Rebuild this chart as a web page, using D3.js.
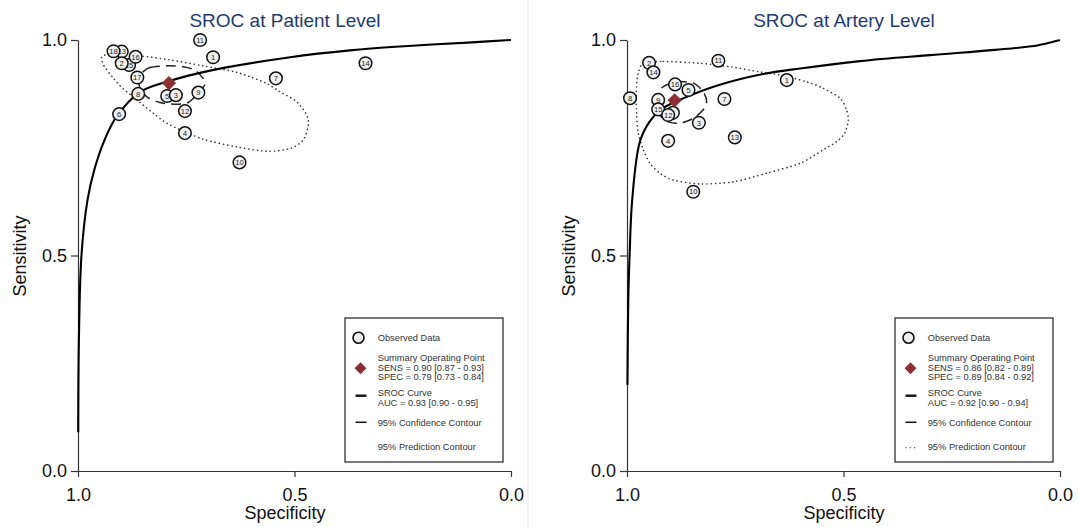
<!DOCTYPE html>
<html><head><meta charset="utf-8">
<script src="https://cdn.jsdelivr.net/npm/d3@7"></script>
<style>body{margin:0;background:#fff}svg{display:block}text{font-family:Arial,"Liberation Sans",sans-serif}</style>
</head><body><svg id="c" width="1079" height="527"></svg>
<script>
// ---------- data ----------
const tickValues = [0, 0.5, 1];
const xAxisTitle = "Specificity";
const yAxisTitle = "Sensitivity";

const patientTitle = "SROC at Patient Level";
// [label, specificity, sensitivity] (array order = drawing order)
const patientStudies = [
  ["13", 0.899, 0.973], ["18", 0.918, 0.974], ["15", 0.882, 0.942], ["2", 0.899, 0.946],
  ["16", 0.867, 0.961], ["11", 0.718, 1.000], ["1", 0.688, 0.960], ["7", 0.543, 0.911],
  ["14", 0.336, 0.946], ["17", 0.863, 0.913], ["8", 0.861, 0.875], ["5", 0.794, 0.870],
  ["3", 0.774, 0.872], ["9", 0.722, 0.878], ["12", 0.753, 0.835], ["6", 0.905, 0.828],
  ["4", 0.753, 0.784], ["10", 0.627, 0.716]
];
const patientSummary = [0.79, 0.90];
const patientCurve = [
  [0.9995, 0.09], [0.998, 0.30], [0.992, 0.50], [0.978, 0.629], [0.962, 0.700], [0.94, 0.765],
  [0.911, 0.822], [0.857, 0.879], [0.795, 0.903], [0.695, 0.929], [0.51, 0.960], [0.372, 0.976],
  [0.256, 0.985], [0.10, 0.994], [0.0, 1.0]
];
const patientConfidence = [
  [0.853, 0.923], [0.834, 0.936], [0.795, 0.940], [0.757, 0.938], [0.730, 0.930], [0.711, 0.911],
  [0.707, 0.896], [0.723, 0.877], [0.745, 0.855], [0.776, 0.851], [0.811, 0.855], [0.841, 0.868],
  [0.857, 0.889], [0.859, 0.907]
];
const patientPrediction = [
  [0.945, 0.961], [0.940, 0.940], [0.918, 0.911], [0.898, 0.889], [0.864, 0.861], [0.826, 0.830],
  [0.788, 0.803], [0.711, 0.770], [0.633, 0.752], [0.564, 0.742], [0.510, 0.748], [0.480, 0.768],
  [0.468, 0.803], [0.472, 0.826], [0.495, 0.857], [0.534, 0.880], [0.564, 0.899], [0.603, 0.915],
  [0.641, 0.927], [0.711, 0.940], [0.788, 0.954], [0.864, 0.964], [0.921, 0.968]
];
const patientLegend = [
  "Observed Data", "Summary Operating Point", "SENS = 0.90 [0.87 - 0.93]", "SPEC = 0.79 [0.73 - 0.84]",
  "SROC Curve", "AUC = 0.93 [0.90 - 0.95]", "95% Confidence Contour", "95% Prediction Contour"
];

const arteryTitle = "SROC at Artery Level";
const arteryStudies = [
  ["2", 0.949, 0.947], ["14", 0.939, 0.925], ["11", 0.789, 0.952], ["1", 0.631, 0.907],
  ["16", 0.889, 0.897], ["5", 0.858, 0.884], ["8", 0.993, 0.865], ["9", 0.928, 0.861],
  ["7", 0.775, 0.863], ["6", 0.894, 0.831], ["15", 0.928, 0.839], ["12", 0.905, 0.826],
  ["3", 0.834, 0.808], ["4", 0.905, 0.766], ["13", 0.751, 0.774], ["10", 0.847, 0.648]
];
const arterySummary = [0.89, 0.86];
const arteryCurve = [
  [0.999, 0.20], [0.997, 0.40], [0.994, 0.50], [0.988, 0.629], [0.970, 0.765], [0.947, 0.812],
  [0.920, 0.840], [0.862, 0.868], [0.793, 0.894], [0.686, 0.921], [0.60, 0.934], [0.462, 0.951],
  [0.30, 0.965], [0.15, 0.977], [0.05, 0.988], [0.0, 1.0]
];
const arteryConfidence = [
  [0.916, 0.892], [0.885, 0.903], [0.847, 0.900], [0.824, 0.880], [0.816, 0.857], [0.824, 0.838],
  [0.847, 0.818], [0.878, 0.807], [0.905, 0.810], [0.924, 0.826], [0.931, 0.853], [0.928, 0.876]
];
const arteryPrediction = [
  [0.962, 0.946], [0.916, 0.950], [0.831, 0.946], [0.762, 0.938], [0.693, 0.926], [0.647, 0.919],
  [0.585, 0.903], [0.547, 0.888], [0.508, 0.865], [0.493, 0.838], [0.489, 0.814], [0.497, 0.784],
  [0.516, 0.764], [0.547, 0.745], [0.600, 0.714], [0.677, 0.691], [0.754, 0.671], [0.831, 0.666],
  [0.893, 0.675], [0.924, 0.691], [0.947, 0.714], [0.962, 0.745], [0.974, 0.784], [0.978, 0.830],
  [0.978, 0.892], [0.974, 0.923]
];
const arteryLegend = [
  "Observed Data", "Summary Operating Point", "SENS = 0.86 [0.82 - 0.89]", "SPEC = 0.89 [0.84 - 0.92]",
  "SROC Curve", "AUC = 0.92 [0.90 - 0.94]", "95% Confidence Contour", "95% Prediction Contour"
];

// ---------- drawing ----------
const svg = d3.select("#c");
svg.append("rect").attr("width", 1079).attr("height", 527).attr("fill", "#fff");
svg.append("line").attr("x1", 528).attr("x2", 528).attr("y1", 0).attr("y2", 527)
  .attr("stroke", "#e9eef1").attr("stroke-width", 1.5);

const diamondColor = "#8b2f35";
const titleColor = "#1f3b6e";

function drawPanel(p) {
  const x = d3.scaleLinear().domain([1, 0]).range([p.x0, p.x1]);
  const y = d3.scaleLinear().domain([0, 1]).range([471, 40]);
  const g = svg.append("g");

  const ax = g.append("g").attr("transform", "translate(0,471)")
    .call(d3.axisBottom(x).tickValues(tickValues).tickFormat(d3.format(".1f")).tickSize(6).tickSizeOuter(0).tickPadding(11));
  const ay = g.append("g").attr("transform", `translate(${p.x0},0)`)
    .call(d3.axisLeft(y).tickValues(tickValues).tickFormat(d3.format(".1f")).tickSize(7).tickSizeOuter(0).tickPadding(4));
  [ax, ay].forEach(a => {
    a.select(".domain").attr("stroke", "#333").attr("stroke-width", 1.2);
    a.selectAll(".tick line").attr("stroke", "#333").attr("stroke-width", 1.2);
    a.selectAll(".tick text").attr("font-size", 18).attr("fill", "#111")
      .attr("font-family", "Arial, 'Liberation Sans', sans-serif");
  });

  g.append("text").attr("x", p.titleX).attr("y", 27).attr("text-anchor", "middle")
    .attr("font-size", 19).attr("fill", titleColor).text(p.title);
  g.append("text").attr("x", p.titleX).attr("y", 519).attr("text-anchor", "middle")
    .attr("font-size", 18).attr("fill", "#111").text(xAxisTitle);
  g.append("text").attr("transform", `translate(${p.x0 - 52},256) rotate(-90)`).attr("text-anchor", "middle")
    .attr("font-size", 18).attr("fill", "#111").text(yAxisTitle);

  const line = d3.line().x(d => x(d[0])).y(d => y(d[1]));

  g.append("path").attr("d", line.curve(d3.curveCardinalClosed.tension(0.2))(p.prediction))
    .attr("fill", "none").attr("stroke", "#333").attr("stroke-width", 1.6)
    .attr("stroke-dasharray", "0.1,4.2").attr("stroke-linecap", "round");
  g.append("path").attr("d", line.curve(d3.curveCardinalClosed.tension(0.2))(p.confidence))
    .attr("fill", "none").attr("stroke", "#222").attr("stroke-width", 1.5)
    .attr("stroke-dasharray", "10,6");
  g.append("path").attr("d", line.curve(d3.curveCatmullRom.alpha(0.5))(p.curve))
    .attr("fill", "none").attr("stroke", "#000").attr("stroke-width", 2.1);

  const pts = g.selectAll(".pt").data(p.studies).join("g").attr("class", "pt")
    .attr("transform", d => `translate(${x(d[1])},${y(d[2])})`);
  pts.append("circle").attr("r", 6.3).attr("fill", "#f0f0f0").attr("stroke", "#111").attr("stroke-width", 1.5);
  pts.append("text").attr("text-anchor", "middle").attr("dy", "0.36em").attr("font-size", 7.6)
    .attr("fill", "#222").text(d => d[0]);

  g.append("path").attr("d", d3.symbol(d3.symbolDiamond2, 130)())
    .attr("transform", `translate(${x(p.summary[0])},${y(p.summary[1])})`).attr("fill", diamondColor);

  const L = g.append("g").attr("transform", `translate(${p.legendX},318)`);
  L.append("rect").attr("width", 158).attr("height", 144).attr("fill", "#fff")
    .attr("stroke", "#222").attr("stroke-width", 1.2);
  L.append("circle").attr("cx", 13.5).attr("cy", 19.7).attr("r", 5.5).attr("fill", "#eee")
    .attr("stroke", "#111").attr("stroke-width", 1.6);
  L.append("path").attr("d", d3.symbol(d3.symbolDiamond2, 90)())
    .attr("transform", "translate(15.5,50.3)").attr("fill", diamondColor);
  L.append("line").attr("x1", 10.5).attr("x2", 21.5).attr("y1", 77.7).attr("y2", 77.7)
    .attr("stroke", "#111").attr("stroke-width", 2.4);
  L.append("line").attr("x1", 10.5).attr("x2", 21.5).attr("y1", 104.3).attr("y2", 104.3)
    .attr("stroke", "#111").attr("stroke-width", 1.5);
  if (p.showPredSymbol) {
    L.append("line").attr("x1", 11).attr("x2", 22).attr("y1", 129.7).attr("y2", 129.7)
      .attr("stroke", "#444").attr("stroke-width", 1.3).attr("stroke-dasharray", "0.1,4.2")
      .attr("stroke-linecap", "round");
  }
  const baselines = [23, 42.7, 52.7, 62, 77.7, 87.7, 107.7, 132];
  L.selectAll(".lt").data(p.legend).join("text").attr("class", "lt")
    .attr("x", 32.7).attr("y", (d, i) => baselines[i]).attr("font-size", 9.3)
    .attr("fill", "#333").text(d => d);
}

drawPanel({ x0: 78, x1: 511, titleX: 285, legendX: 345, title: patientTitle,
  studies: patientStudies, summary: patientSummary, curve: patientCurve,
  confidence: patientConfidence, prediction: patientPrediction, legend: patientLegend, showPredSymbol: false });
drawPanel({ x0: 627, x1: 1060, titleX: 844, legendX: 895, title: arteryTitle,
  studies: arteryStudies, summary: arterySummary, curve: arteryCurve,
  confidence: arteryConfidence, prediction: arteryPrediction, legend: arteryLegend, showPredSymbol: true });
</script></body></html>
